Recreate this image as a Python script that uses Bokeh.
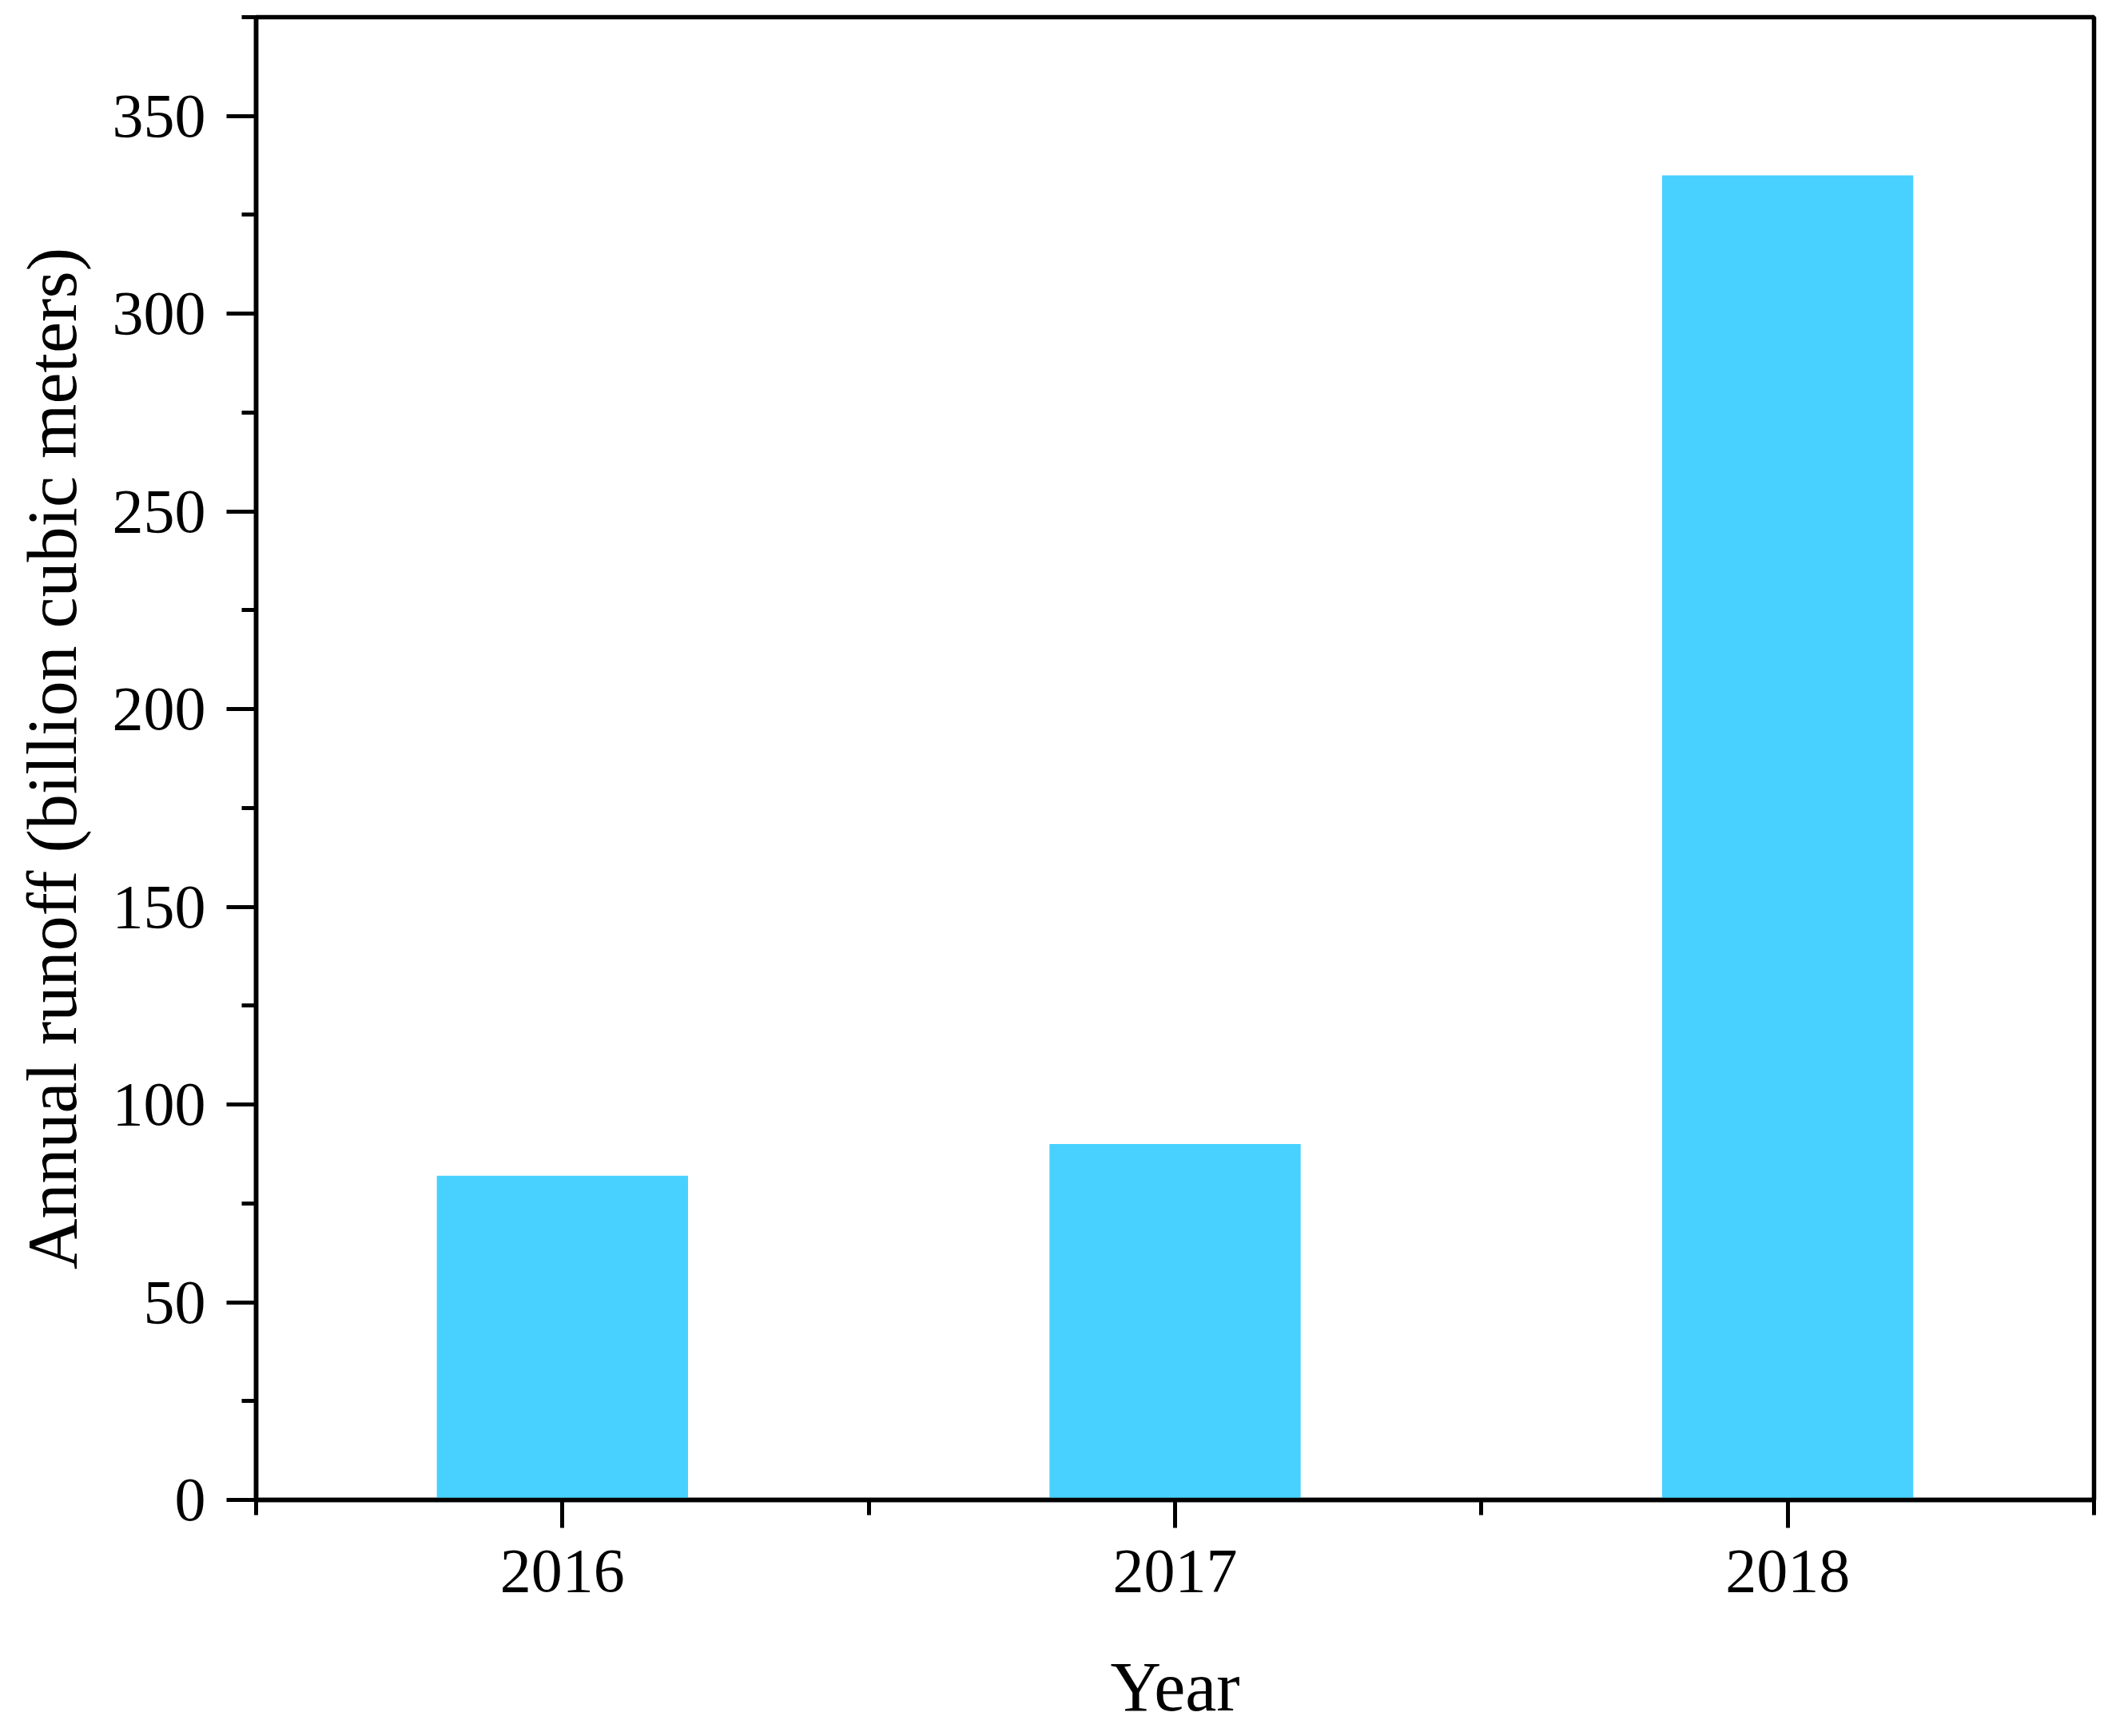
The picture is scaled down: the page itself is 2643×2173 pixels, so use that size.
from bokeh.plotting import figure
from bokeh.models import Range1d, FixedTicker, LinearAxis
from bokeh.embed import file_html
from bokeh.resources import INLINE

# ---- data ----
years = ["2016", "2017", "2018"]
runoff = [82, 90, 335]
y_major_ticks = [0, 50, 100, 150, 200, 250, 300, 350]
y_minor_ticks = [25, 75, 125, 175, 225, 275, 325, 375]

# category positions on a numeric axis (centres) and boundaries
centres = [i + 0.5 for i in range(len(years))]
edges = [float(i) for i in range(len(years) + 1)]

W, H = 2635, 2165
p = figure(width=W, height=H, output_backend="svg", toolbar_location=None,
           x_range=Range1d(0, len(years)), y_range=Range1d(0, 375),
           x_axis_type=None, y_axis_type=None,
           min_border_left=320, min_border_right=15,
           min_border_top=21, min_border_bottom=288)

p.background_fill_color = "white"
p.border_fill_color = "white"
p.grid.visible = False
p.outline_line_color = "black"
p.outline_line_width = 5.5

p.vbar(x=centres, top=runoff, bottom=0, width=0.41,
       fill_color="#48D1FF", line_color=None)

FONT = "Liberation Serif"

xaxis = LinearAxis(ticker=FixedTicker(ticks=centres, minor_ticks=edges),
                   major_label_overrides={c: y for c, y in zip(centres, years)})
yaxis = LinearAxis(ticker=FixedTicker(ticks=y_major_ticks, minor_ticks=y_minor_ticks))

for ax in (xaxis, yaxis):
    ax.axis_line_width = 5.5
    ax.axis_line_color = "black"
    ax.major_tick_line_width = 5
    ax.minor_tick_line_width = 5
    ax.major_tick_line_color = "black"
    ax.minor_tick_line_color = "black"
    ax.major_tick_in = 0
    ax.minor_tick_in = 0
    ax.major_label_text_font = FONT
    ax.major_label_text_font_size = "78px"
    ax.major_label_text_color = "black"
    ax.axis_label_text_font = FONT
    ax.axis_label_text_font_size = "88px"
    ax.axis_label_text_font_style = "normal"
    ax.axis_label_text_color = "black"

xaxis.major_tick_out = 35
xaxis.minor_tick_out = 19
xaxis.major_label_standoff = 28
xaxis.axis_label = "Year"
xaxis.axis_label_standoff = 68

yaxis.major_tick_out = 37
yaxis.minor_tick_out = 18
yaxis.major_label_standoff = 26
yaxis.axis_label = "Annual runoff (billion cubic meters)"
yaxis.axis_label_standoff = 24

p.add_layout(xaxis, "below")
p.add_layout(yaxis, "left")

open("out.html", "w").write(file_html(p, INLINE))
